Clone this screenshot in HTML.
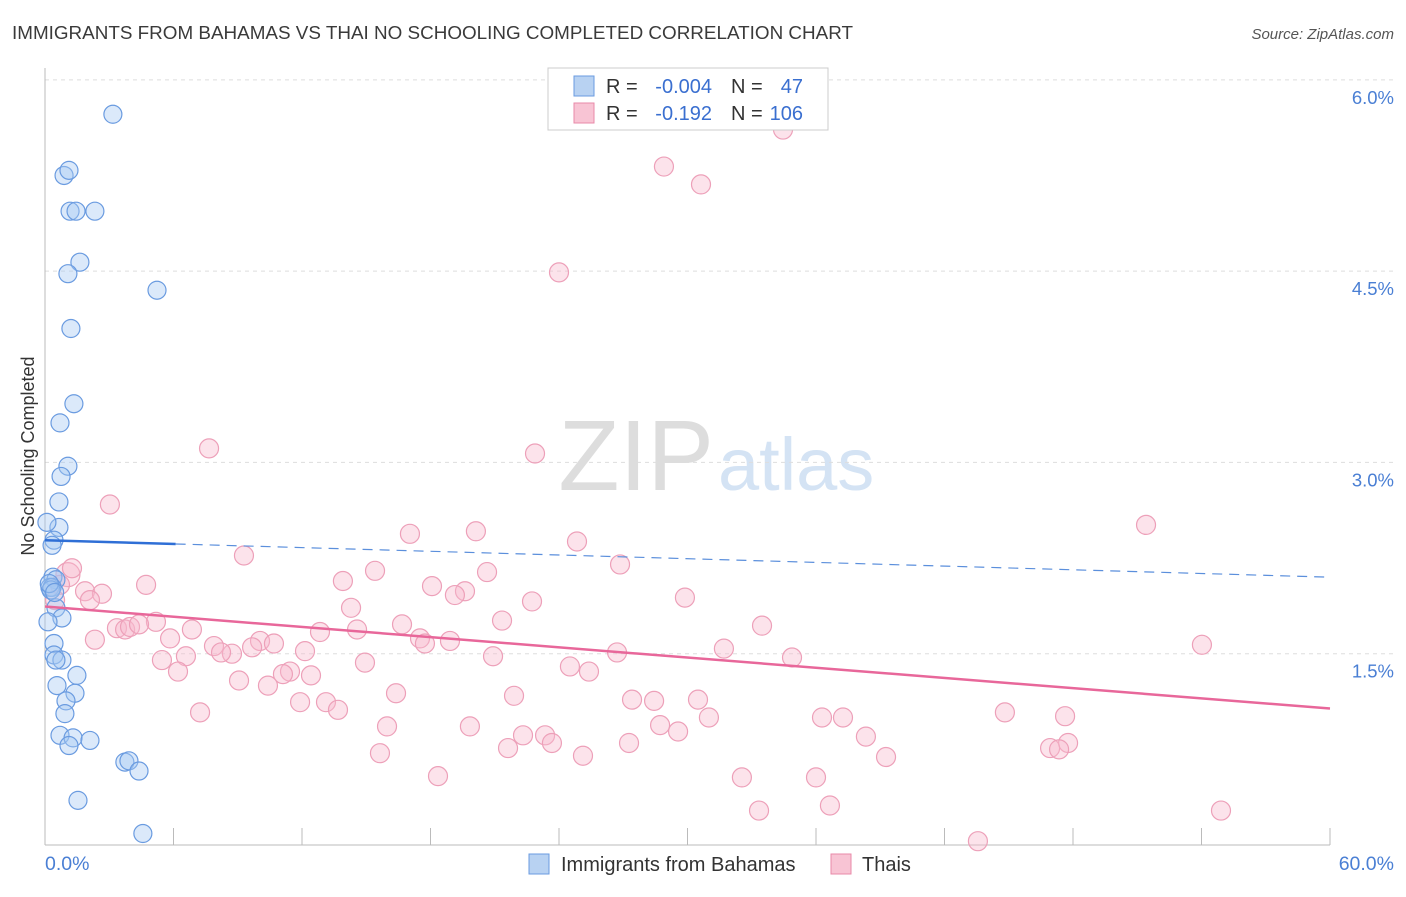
<!DOCTYPE html>
<html><head><meta charset="utf-8"><style>
body{margin:0;background:#fff;font-family:"Liberation Sans",sans-serif;}
svg text{font-family:"Liberation Sans",sans-serif;}
</style></head><body>
<svg id="chart" width="1406" height="892">
<text x="12" y="39" font-size="18" fill="#3a3a3a" textLength="841" lengthAdjust="spacingAndGlyphs">IMMIGRANTS FROM BAHAMAS VS THAI NO SCHOOLING COMPLETED CORRELATION CHART</text>
<text x="1394" y="39" font-size="15" fill="#555" font-style="italic" text-anchor="end">Source: ZipAtlas.com</text>
<text x="714" y="490" font-size="100" fill="#ddd" font-family="Liberation Serif" text-anchor="end">ZIP</text>
<text x="718" y="490" font-size="74" fill="#d4e3f4">atlas</text>
<g id="grid"></g>
<line x1="45" y1="68" x2="45" y2="845" stroke="#bbb"/>
<line x1="45" y1="845" x2="1330" y2="845" stroke="#bbb"/>
<text x="34" y="456" font-size="18" fill="#333" transform="rotate(-90 34 456)" text-anchor="middle">No Schooling Completed</text>
<text x="45" y="870" font-size="19.5" fill="#4a7fd4">0.0%</text>
<text x="1394" y="870" font-size="19.5" fill="#4a7fd4" text-anchor="end">60.0%</text>
<g id="pts"></g>
<g id="trends"></g>
<g>
<rect x="548" y="68" width="280" height="62" fill="#fff" stroke="#ccc"/>
<rect x="574" y="76" width="20" height="20" fill="#b8d2f2" stroke="#6a9be0"/>
<rect x="574" y="103" width="20" height="20" fill="#f8c4d4" stroke="#e88aa8"/>
<text x="606" y="93" font-size="20" fill="#333">R =</text>
<text x="712" y="93" font-size="20" fill="#3a6fd0" text-anchor="end">-0.004</text>
<text x="731" y="93" font-size="20" fill="#333">N =</text>
<text x="803" y="93" font-size="20" fill="#3a6fd0" text-anchor="end">47</text>
<text x="606" y="120" font-size="20" fill="#333">R =</text>
<text x="712" y="120" font-size="20" fill="#3a6fd0" text-anchor="end">-0.192</text>
<text x="731" y="120" font-size="20" fill="#333">N =</text>
<text x="803" y="120" font-size="20" fill="#3a6fd0" text-anchor="end">106</text>
</g>
<g>
<rect x="529" y="854" width="20" height="20" fill="#b8d2f2" stroke="#6a9be0"/>
<text x="561" y="871" font-size="20" fill="#333">Immigrants from Bahamas</text>
<rect x="831" y="854" width="20" height="20" fill="#f8c4d4" stroke="#e88aa8"/>
<text x="862" y="871" font-size="20" fill="#333">Thais</text>
</g>
</svg>
<script>
const yTicks=[1.5,3.0,4.5,6.0];
const yTickLabels=["1.5%","3.0%","4.5%","6.0%"];
const xTicks=[0,6,12,18,24,30,36,42,48,54,60];
const bahamasX=[3.17,0.89,1.12,1.17,1.45,2.33,1.63,1.07,5.23,1.21,1.35,0.70,1.07,0.75,0.65,0.65,0.09,0.42,0.33,0.37,0.51,0.23,0.33,0.51,0.79,0.14,0.42,0.42,0.79,0.51,1.49,0.56,1.40,0.98,0.93,0.70,1.31,2.10,1.12,3.73,3.92,4.39,1.54,4.57,0.28,0.2,0.45];
const bahamasY=[5.73,5.25,5.29,4.97,4.97,4.97,4.57,4.48,4.35,4.05,3.46,3.31,2.97,2.89,2.69,2.49,2.53,2.39,2.35,2.10,2.08,2.02,2.02,1.86,1.78,1.75,1.58,1.49,1.45,1.45,1.33,1.25,1.19,1.13,1.03,0.86,0.84,0.82,0.78,0.65,0.66,0.58,0.35,0.09,2.0,2.05,1.98];
const thaiPx=[[783,130],[664,166],[701,185],[559,273],[209,448],[535,453],[110,504],[1146,525],[476,531],[410,534],[577,541],[244,556],[620,565],[375,571],[487,572],[68,575],[343,581],[146,585],[432,586],[465,591],[455,595],[85,591],[102,594],[60,585],[685,597],[532,601],[351,608],[502,620],[402,625],[156,622],[762,626],[117,628],[125,630],[130,627],[139,624],[192,629],[320,632],[357,629],[95,640],[170,638],[420,638],[450,641],[260,641],[425,644],[214,646],[1202,645],[252,647],[274,644],[232,654],[221,653],[305,651],[724,649],[617,653],[162,660],[186,656],[493,656],[365,662],[792,658],[570,666],[589,671],[178,671],[290,672],[283,674],[311,676],[239,681],[268,686],[396,693],[514,696],[632,699],[654,701],[698,700],[300,702],[326,702],[338,710],[200,713],[709,718],[822,718],[843,718],[1005,713],[1065,716],[660,725],[470,727],[387,727],[678,732],[523,735],[866,737],[545,735],[1068,743],[1050,748],[1059,749],[629,743],[508,748],[552,743],[380,753],[583,756],[886,757],[438,776],[742,778],[816,777],[759,810],[830,806],[1221,811],[978,841],[72,568],[55,600],[90,600]];
const thaiX=thaiPx.map(p=>+((p[0]-45)/21.417).toFixed(2));
const thaiY=thaiPx.map(p=>+((845-p[1])/127.53).toFixed(2));
const bahamasTrend=[2.39,2.10];
const thaiTrend=[1.87,1.07];
const sx=v=>45+v*1285/60;
const sy=v=>845-v*127.53;
const NS="http://www.w3.org/2000/svg";
function mk(t,a,p){const e=document.createElementNS(NS,t);for(const k in a)e.setAttribute(k,a[k]);p.appendChild(e);return e;}
const grid=document.getElementById('grid');
yTicks.forEach((t,i)=>{
 const l=mk('line',{x1:45,x2:1394,y1:sy(t),y2:sy(t),stroke:'#ddd','stroke-dasharray':'4,4'},grid);
 
 
 const tx=mk('text',{x:1394,y:sy(t)+24,'font-size':18.5,fill:'#4a7fd4','text-anchor':'end'},grid);
 tx.textContent=yTickLabels[i];
 
 
});
xTicks.forEach(t=>{
 const l=mk('line',{x1:sx(t),x2:sx(t),y1:828,y2:845,stroke:'#bbb'},grid);
 
 
});
const pts=document.getElementById('pts');
thaiX.forEach((x,i)=>{
 const c=mk('circle',{cx:sx(x),cy:sy(thaiY[i]),r:i==15?12:9.5,fill:'rgba(248,185,205,0.4)',stroke:'#eda0b9','stroke-width':1.2},pts);
 
 
});
bahamasX.forEach((x,i)=>{
 const c=mk('circle',{cx:sx(x),cy:sy(bahamasY[i]),r:9,fill:'rgba(165,200,242,0.4)',stroke:'#6a9be0','stroke-width':1.2},pts);
 
 
});
const tr=document.getElementById('trends');
const by=x=>bahamasTrend[0]+(bahamasTrend[1]-bahamasTrend[0])*x/60;
const b1=mk('line',{x1:sx(0),y1:sy(by(0)),x2:sx(6.1),y2:sy(by(6.1)),stroke:'#2f6fd6','stroke-width':2.5},tr);


const b2=mk('line',{x1:sx(6.1),y1:sy(by(6.1)),x2:sx(59.8),y2:sy(by(59.8)),stroke:'#5b8fdc','stroke-width':1.2,'stroke-dasharray':'10,7'},tr);


const t1=mk('line',{x1:sx(0),y1:sy(thaiTrend[0]),x2:sx(60),y2:sy(thaiTrend[1]),stroke:'#e8679a','stroke-width':2.5},tr);


</script>
</body></html>
